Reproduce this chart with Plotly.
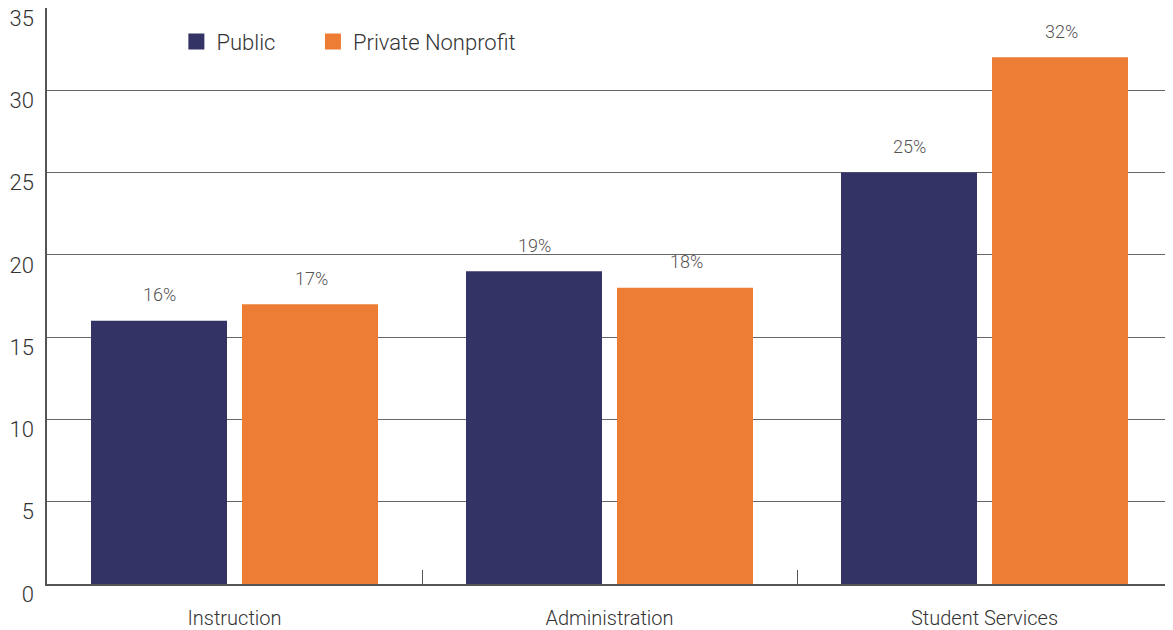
import plotly.graph_objects as go

categories = ["Instruction", "Administration", "Student Services"]
public_vals = [16, 19, 25]
private_vals = [17, 18, 32]
series_names = ["Public", "Private Nonprofit"]
colors = ["#333366", "#ED7D35"]
y_ticks = [0, 5, 10, 15, 20, 25, 30, 35]

FONT = "Roboto, DejaVu Sans Condensed, sans-serif"
WEIGHT = 300

fig = go.Figure()
for name, vals, col in zip(series_names, [public_vals, private_vals], colors):
    fig.add_trace(go.Bar(
        name=name, x=categories, y=vals, marker=dict(color=col, line=dict(width=0)),
        showlegend=False, offsetgroup=name,
    ))
# legend proxies with larger square symbols, each in its own legend box
for name, col, lg in zip(series_names, colors, ["legend", "legend2"]):
    fig.add_trace(go.Scatter(
        name=name, x=[None], y=[None], mode="markers",
        marker=dict(symbol="square", size=21, color=col), showlegend=True,
        legend=lg,
    ))

# data labels
for si, vals in enumerate([public_vals, private_vals]):
    for ci, v in enumerate(vals):
        fig.add_annotation(
            x=ci, y=v, xref="x", yref="y", text=f"{v}%", showarrow=False,
            yshift=26, xshift=(-75 if si == 0 else 77),
            font=dict(family=FONT, size=18, color="#555555", weight=WEIGHT),
        )

legend_font = dict(family=FONT, size=22, color="#333333", weight=WEIGHT)
fig.update_layout(
    width=1165, height=622,
    margin=dict(l=39, r=1, t=0, b=46, autoexpand=False),
    plot_bgcolor="white", paper_bgcolor="white",
    barmode="group", bargap=0.1947, bargroupgap=0.0993,
    font=dict(family=FONT, size=20, color="#333333", weight=WEIGHT),
    legend=dict(
        orientation="h", x=0.115, y=0.978, xanchor="left", yanchor="top",
        font=legend_font, bgcolor="rgba(0,0,0,0)", itemwidth=30,
    ),
    legend2=dict(
        orientation="h", x=0.2364, y=0.978, xanchor="left", yanchor="top",
        font=legend_font, bgcolor="rgba(0,0,0,0)", itemwidth=30,
    ),
    xaxis=dict(
        automargin=False,
        showline=True, linecolor="#555555", linewidth=1.5,
        ticks="inside", tickson="boundaries", ticklen=14, tickcolor="#555555",
        tickfont=dict(family=FONT, size=20, color="#333333", weight=WEIGHT),
        showgrid=False, ticklabelstandoff=15,
    ),
    yaxis=dict(
        automargin=False,
        range=[0, 35], tickvals=y_ticks, ticktext=[str(t) for t in y_ticks],
        showgrid=True, gridcolor="#666666", gridwidth=1,
        showline=True, linecolor="#555555", linewidth=1.5,
        tickfont=dict(family=FONT, size=22, color="#333333", weight=WEIGHT),
        ticks="", ticklabelstandoff=7, ticklabelshift=10, zeroline=False,
        ticklabeloverflow="allow",
    ),
)

fig.write_html("out.html")
